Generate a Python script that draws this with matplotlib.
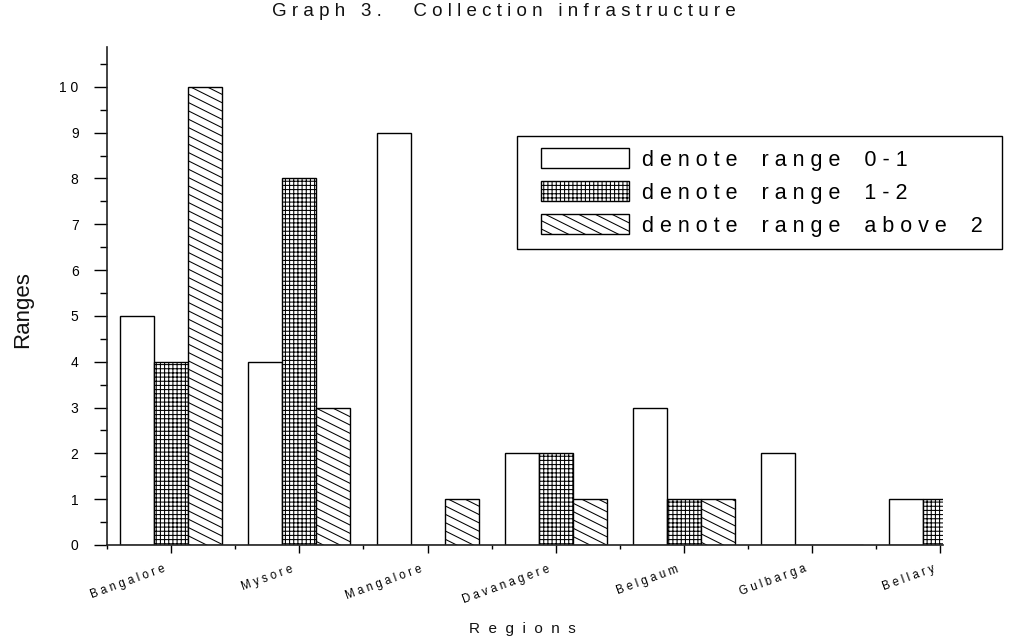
import numpy as np
import matplotlib
matplotlib.use('Agg')
import matplotlib.pyplot as plt
from matplotlib import hatch as mhatch
from matplotlib.path import Path
from matplotlib.patches import Rectangle
from matplotlib.transforms import ScaledTranslation

# ---- data ---------------------------------------------------------------
regions = ['Bangalore', 'Mysore', 'Mangalore', 'Davanagere',
           'Belgaum', 'Gulbarga', 'Bellary']
range_0_1 = [5, 4, 9, 2, 3, 2, 1]
range_1_2 = [4, 8, 0, 2, 1, 0, 1]
range_above_2 = [10, 3, 1, 1, 1, 0, 0]
series_labels = ['denote range 0-1', 'denote range 1-2', 'denote range above 2']
y_ticks = list(range(0, 11))

title = 'Graph 3.  Collection infrastructure'
x_title = 'Regions'
y_title = 'Ranges'


def spaced(text, gap=' ', word_gap='   '):
    """Widely tracked text: a gap between letters, a wider one between words."""
    return word_gap.join(gap.join(word) for word in text.split(' '))


# Backslash hatch drawn at a shallow 1:2 slope rather than 45 degrees.
class ShallowBackslash(mhatch.HatchPatternBase):
    def __init__(self, hatch, density):
        self.num_lines = int(hatch.count('\\') * density)
        if self.num_lines:
            n = self.num_lines
            self.offsets = np.arange(0, int(1.5 * n) + 2) / n
            self.num_vertices = 2 * len(self.offsets)
        else:
            self.offsets = np.empty(0)
            self.num_vertices = 0

    def set_vertices_and_codes(self, vertices, codes):
        c = self.offsets
        vertices[0::2, 0] = 0.0
        vertices[0::2, 1] = c
        vertices[1::2, 0] = 1.0
        vertices[1::2, 1] = c - 0.5
        codes[0::2] = Path.MOVETO
        codes[1::2] = Path.LINETO


mhatch._hatch_types[mhatch._hatch_types.index(mhatch.SouthEastHatch)] = ShallowBackslash

plt.rcParams['font.family'] = ['Liberation Sans', 'DejaVu Sans']
plt.rcParams['hatch.linewidth'] = 0.75
plt.rcParams['hatch.color'] = 'black'

W, H = 1018, 641
fig = plt.figure(figsize=(W / 100, H / 100), dpi=100)
ax = fig.add_axes([107 / W, 1 - 545 / H, (943 - 107) / W, (545 - 47) / H])

x = np.arange(len(regions))
bw = 0.265
hatches = [None, '++++', '\\\\']
handles = []
for i, (vals, hp) in enumerate(zip([range_0_1, range_1_2, range_above_2], hatches)):
    bars = ax.bar(x + (i - 1) * bw, vals, width=bw, facecolor='white',
                  edgecolor='black', linewidth=1.0, hatch=hp,
                  label=spaced(series_labels[i], word_gap='    '))
    handles.append(bars)

ax.set_xlim(-0.5, 6.02)
ax.set_ylim(0, 10.87)

for side in ('top', 'right'):
    ax.spines[side].set_visible(False)
for side in ('left', 'bottom'):
    ax.spines[side].set_linewidth(1.2)
    ax.spines[side].set_color('#222222')

ax.set_yticks(y_ticks)
ax.set_yticklabels([spaced(str(v)) for v in y_ticks], fontsize=10)
ax.set_yticks(np.arange(0.5, 11, 1.0), minor=True)
ax.tick_params(axis='y', which='major', length=9.5, width=1.0, pad=11)
ax.tick_params(axis='y', which='minor', length=5, width=1.0)

ax.set_xticks(x)
ax.set_xticks(np.arange(-0.5, 6.0, 1.0), minor=True)
ax.tick_params(axis='x', which='major', length=6, width=1.0, pad=7)
ax.tick_params(axis='x', which='minor', length=3, width=1.0)
ax.set_xticklabels([spaced(r) for r in regions], fontsize=8.3,
                   rotation=20, ha='right', va='top', rotation_mode='anchor')
offset = ScaledTranslation(-6 / 72, 0, fig.dpi_scale_trans)
for lab in ax.get_xticklabels():
    lab.set_transform(lab.get_transform() + offset)

fig.text(504 / W, 1 - 11 / H, spaced(title), ha='center', va='center',
         fontsize=13.5, color='#111111')
fig.text(522 / W, 1 - 629 / H, spaced(x_title, gap='  '), ha='center',
         va='center', fontsize=11, color='#111111')
fig.text(23 / W, 1 - 310 / H, y_title, ha='center', va='center',
         rotation=90, fontsize=16, color='#111111')

leg = ax.legend(handles=handles, loc='upper left',
                bbox_to_anchor=(529 / W, 1 - 136 / H),
                bbox_transform=fig.transFigure, borderaxespad=0,
                fontsize=15.5, frameon=False,
                handlelength=4.09, handleheight=1.07, handletextpad=0.6,
                labelspacing=0.49, borderpad=0.56)

# Legend frame with a wider left margin than the other sides.
fig.canvas.draw()
bb = leg.get_window_extent()
left_pad, right_pad = 12, 7
(fx0, fy0), (fx1, fy1) = fig.transFigure.inverted().transform(
    [(bb.x0 - left_pad, bb.y0), (bb.x1 + right_pad, bb.y1)])
fig.add_artist(Rectangle((fx0, fy0), fx1 - fx0, fy1 - fy0,
                         transform=fig.transFigure, facecolor='none',
                         edgecolor='black', linewidth=1.0, zorder=4))

fig.savefig('out.png', dpi=100)
